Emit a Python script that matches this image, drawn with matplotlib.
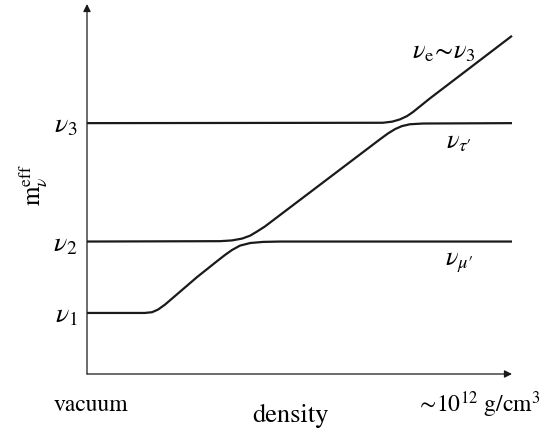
import matplotlib
matplotlib.use("Agg")
import matplotlib.pyplot as plt

plt.rcParams['font.family'] = ['STIXGeneral', 'DejaVu Serif']
plt.rcParams['mathtext.fontset'] = 'stix'

# niveles en vacío
niveles = [1.65, 3.58, 6.78]
etiquetas_niveles = [r'$\nu_1$', r'$\nu_2$', r'$\nu_3$']

# curvas (densidad, masa efectiva)
x_bajo = [0, 1.36, 1.53, 1.67, 1.84, 2.59, 3.06, 3.25, 3.41, 3.60, 3.84, 4.14, 4.54, 10]
y_bajo = [1.65, 1.65, 1.67, 1.74, 1.88, 2.62, 3.05, 3.22, 3.35, 3.47, 3.54, 3.57, 3.58, 3.58]

x_medio = [0, 3.13, 3.41, 3.65, 3.84, 4.00, 4.19, 6.89, 7.08, 7.25, 7.41, 7.60, 7.91, 10]
y_medio = [3.58, 3.59, 3.61, 3.66, 3.74, 3.85, 3.99, 6.34, 6.50, 6.62, 6.70, 6.75, 6.77, 6.78]

x_alto = [0, 6.96, 7.18, 7.36, 7.53, 7.67, 8.07, 10]
y_alto = [6.78, 6.79, 6.82, 6.88, 6.97, 7.08, 7.45, 9.14]

fig = plt.figure(figsize=(5.43, 4.28), dpi=100)
ax = fig.add_axes([87 / 543, 54 / 428, 425 / 543, 370 / 428])
ax.set_xlim(0, 10)
ax.set_ylim(0, 10)
for s in ax.spines.values():
    s.set_visible(False)

color = '#1a1a1a'
for xs, ys in [(x_bajo, y_bajo), (x_medio, y_medio), (x_alto, y_alto)]:
    ax.plot(xs, ys, color=color, lw=1.6, clip_on=False, solid_capstyle='butt')

# ejes con flecha
flecha = dict(arrowstyle='-|>', color=color, lw=0.9, mutation_scale=11, shrinkA=0, shrinkB=0)
ax.annotate('', xy=(0, 10), xytext=(0, 0), arrowprops=flecha, annotation_clip=False)
ax.annotate('', xy=(10, 0), xytext=(0, 0), arrowprops=flecha, annotation_clip=False)

ax.set_xticks([])
ax.set_yticks(niveles)
ax.set_yticklabels(etiquetas_niveles, fontsize=20)
ax.tick_params(axis='y', length=0, pad=7)

ax.text(-1.27, 5.11, r'$\mathrm{m}_\nu^{\mathrm{eff}}$', rotation=90, fontsize=18,
        ha='center', va='center')
ax.text(-0.78, -1.0, 'vacuum', fontsize=17, ha='left', va='baseline')
ax.text(4.78, -1.30, 'density', fontsize=19, ha='center', va='baseline')
ax.text(10.68, -1.03, r'$\sim\!10^{12}$ g/cm$^3$', fontsize=17, ha='right', va='baseline')

ax.text(8.40, 8.70, r'$\nu_{\rm e}\!\sim\!\nu_3$', fontsize=19, ha='center', va='center')
ax.text(8.75, 6.27, r"$\nu_{\tau\prime}$", fontsize=19, ha='center', va='center')
ax.text(8.75, 3.0, r"$\nu_{\mu\prime}$", fontsize=19, ha='center', va='center')

fig.savefig('out.png', dpi=100)
